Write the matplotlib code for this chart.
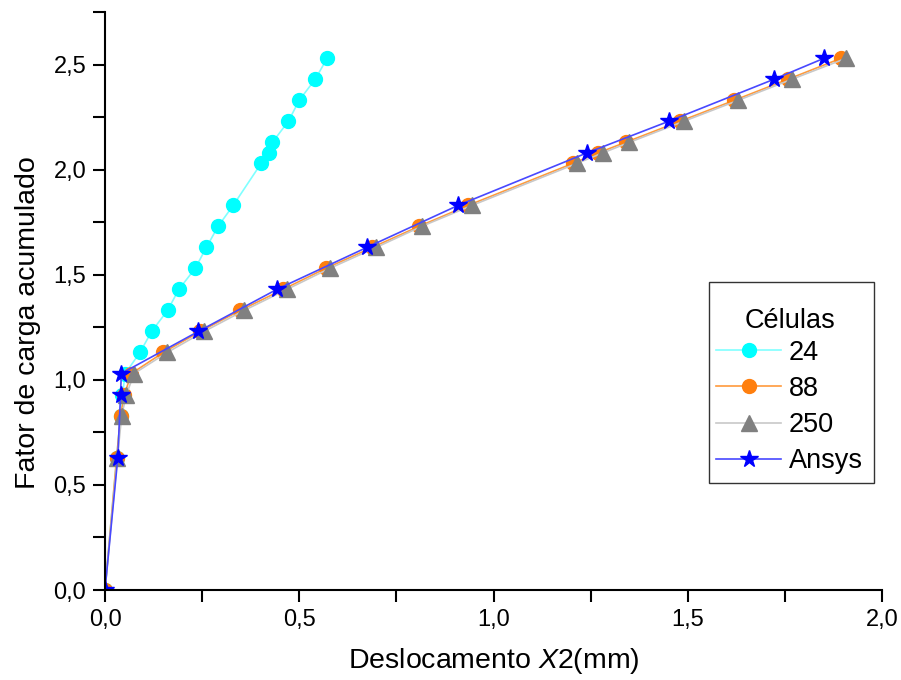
import matplotlib
matplotlib.use("Agg")
import matplotlib.pyplot as plt
from matplotlib.ticker import MultipleLocator, FuncFormatter
from matplotlib.patches import Rectangle

plt.rcParams['font.family'] = ['Liberation Sans', 'DejaVu Sans']
plt.rcParams['mathtext.fontset'] = 'custom'
plt.rcParams['mathtext.rm'] = 'Liberation Sans'
plt.rcParams['mathtext.it'] = 'Liberation Sans:italic'

# Data (load factor vs displacement X2 in mm)
y24 = [0, 0.63, 0.83, 0.93, 1.03, 1.13, 1.23, 1.33, 1.43, 1.53, 1.63, 1.73, 1.83,
       2.03, 2.08, 2.13, 2.23, 2.33, 2.43, 2.53]
x24 = [0, 0.030, 0.040, 0.045, 0.052, 0.090, 0.120, 0.161, 0.190, 0.232, 0.261, 0.291, 0.330,
       0.402, 0.422, 0.431, 0.472, 0.500, 0.541, 0.572]

y88 = [0, 0.63, 0.83, 0.93, 1.03, 1.13, 1.23, 1.33, 1.43, 1.53, 1.63, 1.73, 1.83,
       2.03, 2.08, 2.13, 2.23, 2.33, 2.43, 2.53]
x88 = [0, 0.030, 0.040, 0.050, 0.068, 0.150, 0.245, 0.348, 0.458, 0.568, 0.688, 0.808, 0.935,
       1.205, 1.270, 1.340, 1.480, 1.620, 1.758, 1.895]

y250 = [0, 0.63, 0.83, 0.93, 1.03, 1.13, 1.23, 1.33, 1.43, 1.53, 1.63, 1.73, 1.83,
        2.03, 2.08, 2.13, 2.23, 2.33, 2.43, 2.53]
x250 = [0, 0.032, 0.043, 0.055, 0.075, 0.160, 0.255, 0.358, 0.468, 0.578, 0.698, 0.815, 0.945,
        1.215, 1.282, 1.350, 1.490, 1.630, 1.768, 1.908]

yans = [0, 0.63, 0.93, 1.03, 1.23, 1.43, 1.63, 1.83, 2.08, 2.23, 2.43, 2.53]
xans = [0, 0.033, 0.040, 0.042, 0.240, 0.442, 0.674, 0.909, 1.241, 1.451, 1.722, 1.851]

labels = ['24', '88', '250', 'Ansys']

W, H = 901, 680
fig = plt.figure(figsize=(W / 100, H / 100), dpi=100)
ax = fig.add_axes([105 / W, 1 - 590 / H, (882 - 105) / W, (590 - 12) / H])

ax.plot(x24, y24, '-', color='#80ffff', lw=1.2, marker='o', ms=10,
        mfc='#00ffff', mec='#00ffff', label=labels[0])
ax.plot(x88, y88, '-', color='#ff9a3c', lw=1.2, marker='o', ms=10,
        mfc='#ff7f0e', mec='#ff7f0e', label=labels[1])
ax.plot(x250, y250, '-', color='#c8c8c8', lw=1.2, marker='^', ms=11,
        mfc='#808080', mec='#808080', label=labels[2])
ax.plot(xans, yans, '-', color='#4848ff', lw=1.2, marker='*', ms=13,
        mfc='#0000ff', mec='#0000ff', label=labels[3])

ax.set_xlim(0, 2.0)
ax.set_ylim(0, 2.75)
ax.xaxis.set_major_locator(MultipleLocator(0.5))
ax.xaxis.set_minor_locator(MultipleLocator(0.25))
ax.yaxis.set_major_locator(MultipleLocator(0.5))
ax.yaxis.set_minor_locator(MultipleLocator(0.25))
fmt = FuncFormatter(lambda v, p: f"{v:.1f}".replace('.', ','))
ax.xaxis.set_major_formatter(fmt)
ax.yaxis.set_major_formatter(fmt)

for s in ['top', 'right']:
    ax.spines[s].set_visible(False)
for s in ['left', 'bottom']:
    ax.spines[s].set_linewidth(1.5)
ax.tick_params(which='both', direction='out', width=1.5, length=8.5, labelsize=17, pad=5)

ax.set_xlabel('Deslocamento $\\mathit{X2}$(mm)', fontsize=20.5, labelpad=11)
ax.set_ylabel('Fator de carga acumulado', fontsize=20.5)
ax.yaxis.set_label_coords(-0.083, 0.462)

leg = ax.legend(title='Células', loc='upper left',
                bbox_to_anchor=(716 / W, 1 - 308 / H), bbox_transform=fig.transFigure,
                fontsize=19.5, title_fontsize=19.5, frameon=False,
                handlelength=2.4, borderpad=0, borderaxespad=0, labelspacing=0.38,
                handletextpad=0.3)
leg._legend_box.sep = 4
fig.patches.append(Rectangle((709 / W, 1 - 483 / H), (874 - 709) / W, (483 - 282) / H,
                             transform=fig.transFigure, fill=False,
                             edgecolor='#333333', linewidth=1.0))

fig.savefig('out.png', dpi=100)
